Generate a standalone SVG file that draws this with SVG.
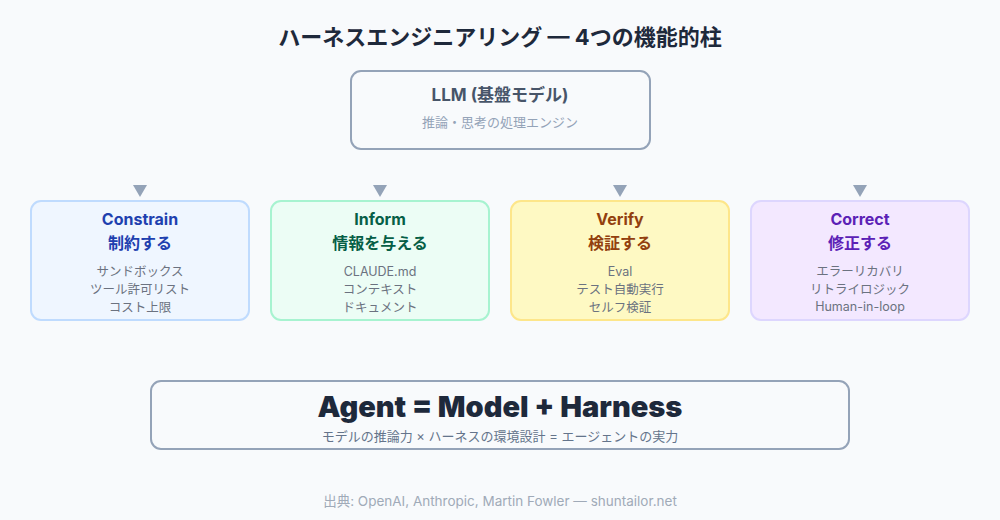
<svg xmlns="http://www.w3.org/2000/svg" width="1000" height="520" viewBox="0 0 1000 520">
<style>
text{font-family:Inter,"Noto Sans CJK JP",sans-serif;text-anchor:middle}
.title{font-size:22px;font-weight:700;fill:#1e293b}
.h{font-size:16px;font-weight:700}
.it{font-size:12.5px;fill:#6b7280}
.arr{fill:#94a3b8}
</style>
<rect width="1000" height="520" fill="#f8fafc"/>
<text class="title" x="500" y="45">ハーネスエンジニアリング — 4つの機能的柱</text>
<g id="llm">
<rect x="351" y="71" width="299" height="78" rx="10" fill="#f8fafc" stroke="#94a3b8" stroke-width="2"/>
<text x="500" y="101" style="font-size:17px;font-weight:700;fill:#475569">LLM (基盤モデル)</text>
<text x="500" y="127" style="font-size:13px;fill:#94a3b8">推論・思考の処理エンジン</text>
</g>
<g id="connectors">
<path class="arr" d="M133,185 L147,185 L140,197 Z"/>
<path class="arr" d="M373,185 L387,185 L380,197 Z"/>
<path class="arr" d="M613,185 L627,185 L620,197 Z"/>
<path class="arr" d="M853,185 L867,185 L860,197 Z"/>
</g>
<g id="constrain">
<rect x="31" y="201" width="218" height="119" rx="10" fill="#eff6ff" stroke="#bfdbfe" stroke-width="2"/>
<text class="h" x="140" y="225" fill="#1e40af">Constrain</text>
<text class="h" x="140" y="249" fill="#1e40af">制約する</text>
<text class="it" x="140" y="276">サンドボックス</text>
<text class="it" x="140" y="294">ツール許可リスト</text>
<text class="it" x="140" y="312">コスト上限</text>
</g>
<g id="inform">
<rect x="271" y="201" width="218" height="119" rx="10" fill="#ecfdf5" stroke="#a7f3d0" stroke-width="2"/>
<text class="h" x="380" y="225" fill="#065f46">Inform</text>
<text class="h" x="380" y="249" fill="#065f46">情報を与える</text>
<text class="it" x="380" y="276">CLAUDE.md</text>
<text class="it" x="380" y="294">コンテキスト</text>
<text class="it" x="380" y="312">ドキュメント</text>
</g>
<g id="verify">
<rect x="511" y="201" width="218" height="119" rx="10" fill="#fef9c3" stroke="#fde68a" stroke-width="2"/>
<text class="h" x="620" y="225" fill="#92400e">Verify</text>
<text class="h" x="620" y="249" fill="#92400e">検証する</text>
<text class="it" x="620" y="276">Eval</text>
<text class="it" x="620" y="294">テスト自動実行</text>
<text class="it" x="620" y="312">セルフ検証</text>
</g>
<g id="correct">
<rect x="751" y="201" width="218" height="119" rx="10" fill="#f3e8ff" stroke="#ddd6fe" stroke-width="2"/>
<text class="h" x="860" y="225" fill="#5b21b6">Correct</text>
<text class="h" x="860" y="249" fill="#5b21b6">修正する</text>
<text class="it" x="860" y="276">エラーリカバリ</text>
<text class="it" x="860" y="294">リトライロジック</text>
<text class="it" x="860" y="311">Human-in-loop</text>
</g>
<g id="formula">
<rect x="151" y="381" width="698" height="68" rx="10" fill="#f8fafc" stroke="#94a3b8" stroke-width="2"/>
<text x="500" y="417" style="font-size:29px;font-weight:900;fill:#1e293b">Agent = Model + Harness</text>
<text x="500" y="441" style="font-size:13px;fill:#64748b">モデルの推論力 × ハーネスの環境設計 = エージェントの実力</text>
</g>
<text x="500" y="506" style="font-size:13.5px;fill:#a0aab8">出典: OpenAI, Anthropic, Martin Fowler — shuntailor.net</text>
</svg>
